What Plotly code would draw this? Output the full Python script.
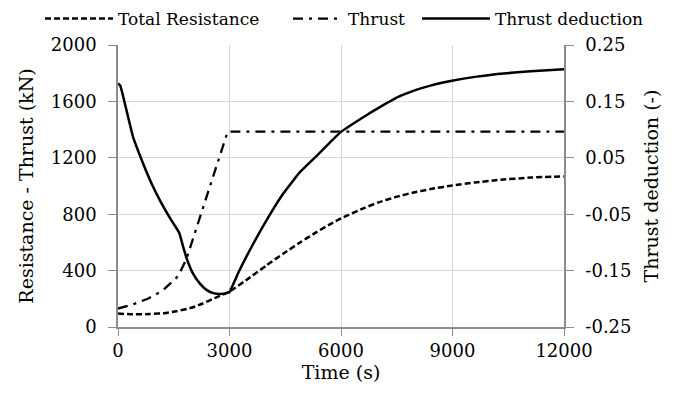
import plotly.graph_objects as go

# ---- data ----
time_res = [0, 400, 855, 1300, 1575, 2000, 2250, 2600, 3000, 3553, 4000, 4451, 4900, 5352, 5700, 6000, 6650, 7000, 7510, 8045, 8408, 9021, 9600, 10208, 11106, 12000]
resistance = [95, 90, 92, 100, 112, 138, 163, 205, 252, 352, 438, 521, 600, 675, 728, 770, 847, 883, 925, 959, 978, 1005, 1025, 1042, 1060, 1068]

time_thrust = [0, 400, 800, 1200, 1575, 1700, 1845, 2400, 2950, 12000]
thrust = [131, 160, 200, 258, 350, 405, 485, 935, 1385, 1385]

time_td = [0, 60, 226, 405, 675, 900, 1125, 1400, 1646, 1750, 1845, 2000, 2204, 2400, 2563, 2750, 2967, 3000, 3250, 3553, 4003, 4451, 4901, 5352, 5700, 6000, 6695, 7000, 7510, 8000, 8408, 9021, 9600, 10208, 11106, 12000]
thrust_deduction = [0.182, 0.178, 0.135, 0.087, 0.040, 0.005, -0.025, -0.057, -0.083, -0.107, -0.128, -0.153, -0.173, -0.185, -0.190, -0.1915, -0.189, -0.188, -0.152, -0.113, -0.060, -0.013, 0.025, 0.054, 0.077, 0.096, 0.126, 0.138, 0.157, 0.170, 0.178, 0.187, 0.1935, 0.1985, 0.2035, 0.207]

left_ticks = [0, 400, 800, 1200, 1600, 2000]
right_ticks = [-0.25, -0.15, -0.05, 0.05, 0.15, 0.25]
right_labels = ["-0.25", "-0.15", "-0.05", "0.05", "0.15", "0.25"]
x_ticks = [0, 3000, 6000, 9000, 12000]

FONT = "DejaVu Serif"
GRID = "#d9d9d9"
AXIS = "#8c8c8c"

fig = go.Figure()
fig.add_trace(go.Scatter(x=time_res, y=resistance, name="Total Resistance", mode="lines",
                         legend="legend",
                         line=dict(color="black", width=2.5, dash="6px,3px", shape="spline", smoothing=0.5)))
fig.add_trace(go.Scatter(x=time_thrust, y=thrust, name="Thrust", mode="lines",
                         legend="legend2",
                         line=dict(color="black", width=2.3, dash="10px,6px,3px,6px")))
fig.add_trace(go.Scatter(x=time_td, y=thrust_deduction, name="Thrust deduction", mode="lines",
                         yaxis="y2", legend="legend3",
                         line=dict(color="black", width=2.5, shape="spline", smoothing=0.4)))

leg_common = dict(orientation="h", yanchor="middle", y=1.092, xanchor="left",
                  font=dict(family=FONT, size=17, color="black"),
                  bgcolor="rgba(0,0,0,0)", borderwidth=0, tracegroupgap=0)

fig.update_layout(
    width=684, height=397,
    margin=dict(l=118, r=120, t=45, b=70, autoexpand=False),
    paper_bgcolor="white", plot_bgcolor="white",
    font=dict(family=FONT, size=18, color="black"),
    showlegend=True,
    legend=dict(x=-0.1749, itemwidth=68, **leg_common),
    legend2=dict(x=0.3812, itemwidth=50, **leg_common),
    legend3=dict(x=0.6704, itemwidth=68, **leg_common),
    xaxis=dict(range=[0, 12000], tickvals=x_ticks, ticktext=[str(v) for v in x_ticks],
               showgrid=True, gridcolor=GRID, gridwidth=1,
               showline=True, linecolor=AXIS, linewidth=1.5,
               ticks="outside", ticklen=7, tickcolor=AXIS,
               zeroline=False, tickfont=dict(family=FONT, size=18),
               title=dict(text="Time (s)", standoff=0, font=dict(family=FONT, size=19))),
    yaxis=dict(range=[0, 2000], tickvals=left_ticks, ticktext=[str(v) for v in left_ticks],
               showgrid=True, gridcolor=GRID, gridwidth=1,
               showline=True, linecolor=AXIS, linewidth=1.5,
               ticks="outside", ticklen=8, tickcolor=AXIS, ticklabelstandoff=8,
               zeroline=False, tickfont=dict(family=FONT, size=18),
               title=dict(text="Resistance - Thrust (kN)", standoff=12, font=dict(family=FONT, size=19))),
    yaxis2=dict(range=[-0.25, 0.25], overlaying="y", side="right",
                tickvals=right_ticks, ticktext=right_labels,
                showgrid=False, showline=True, linecolor=AXIS, linewidth=1.5,
                ticks="outside", ticklen=8, tickcolor=AXIS, ticklabelstandoff=8,
                zeroline=False, tickfont=dict(family=FONT, size=18),
                title=dict(text="Thrust deduction (-)", standoff=14, font=dict(family=FONT, size=19))),
)

fig.write_html("out.html")
